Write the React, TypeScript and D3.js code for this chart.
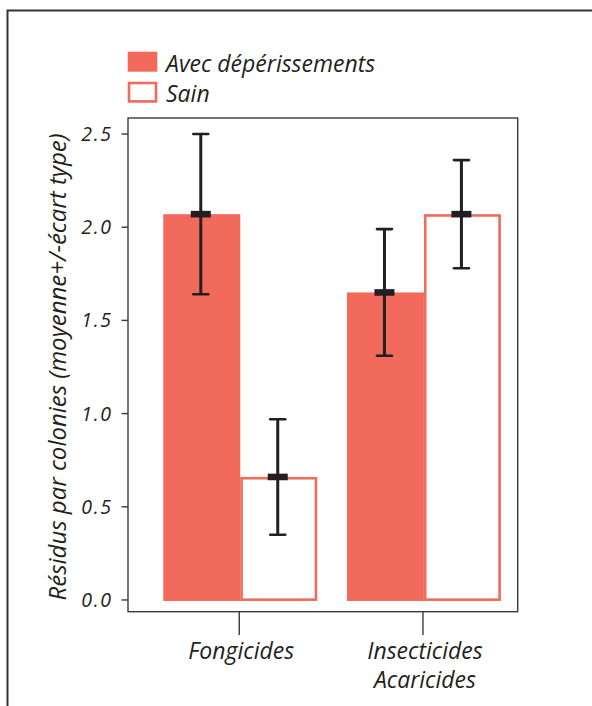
import React from "react";
import * as d3 from "d3";

// Residue levels per colony, by product family and colony status
const categories = ["Fongicides", "Insecticides\nAcaricides"];
const seriesNames = ["Avec dépérissements", "Sain"];
const meanAvec = [2.07, 1.65];
const meanSain = [0.66, 2.07];
const sdAvec = [0.43, 0.34];
const sdSain = [0.31, 0.29];
const yTicks = [0, 0.5, 1.0, 1.5, 2.0, 2.5];

const W = 592;
const H = 706;
const RED = "#f26a5b";
const INK = "#231f20";
const FONT = "'Open Sans', 'Liberation Sans', sans-serif";

const panel = { left: 128, right: 517.7, top: 118, bottom: 611.7 };

export default function App() {
  const y = d3
    .scaleLinear()
    .domain([-0.063, 2.586])
    .range([panel.bottom, panel.top]);

  const x = d3
    .scaleBand<string>()
    .domain(categories)
    .range([163.3, 500.9])
    .paddingInner(0.162)
    .paddingOuter(0);

  const xs = d3
    .scaleBand<string>()
    .domain(seriesNames)
    .range([0, x.bandwidth()]);

  const rows = categories.flatMap((c, i) => [
    { cat: c, series: seriesNames[0], mean: meanAvec[i], sd: sdAvec[i] },
    { cat: c, series: seriesNames[1], mean: meanSain[i], sd: sdSain[i] },
  ]);

  const sw = 2.6;

  return (
    <svg
      width={W}
      height={H}
      style={{ position: "absolute", left: 0, top: 0, background: "#fff" }}
      fontFamily={FONT}
      fontStyle="italic"
    >
      <rect x={0} y={0} width={W} height={H} fill="#fff" />
      {/* outer frame */}
      <rect
        x={7.5}
        y={10.5}
        width={W + 20}
        height={H + 20}
        fill="none"
        stroke="#333"
        strokeWidth={2}
      />

      {/* bars */}
      {rows.map((r, i) => {
        const x0 = (x(r.cat) as number) + (xs(r.series) as number);
        const w = xs.bandwidth();
        const top = y(r.mean);
        const bot = y(0) + 1;
        if (r.series === seriesNames[0]) {
          return (
            <rect key={i} x={x0} y={top} width={w} height={bot - top} fill={RED} />
          );
        }
        return (
          <rect
            key={i}
            x={x0 + sw / 2}
            y={top + sw / 2}
            width={w - sw}
            height={bot - top - sw}
            fill="#fff"
            stroke={RED}
            strokeWidth={sw}
          />
        );
      })}

      {/* error bars */}
      {rows.map((r, i) => {
        const cx = (x(r.cat) as number) + (xs(r.series) as number) + xs.bandwidth() / 2 - 1;
        const hi = y(r.mean + r.sd);
        const lo = y(r.mean - r.sd);
        return (
          <g key={i} stroke={INK}>
            <line x1={cx} x2={cx} y1={hi} y2={lo} strokeWidth={3} />
            <line x1={cx - 7.5} x2={cx + 7.5} y1={hi} y2={hi} strokeWidth={2.6} strokeLinecap="round" />
            <line x1={cx - 7.5} x2={cx + 7.5} y1={lo} y2={lo} strokeWidth={2.6} strokeLinecap="round" />
            <rect x={cx - 10} y={y(r.mean) - 3.3} width={20} height={6.6} fill={INK} stroke="none" />
          </g>
        );
      })}

      {/* panel border */}
      <rect
        x={panel.left}
        y={panel.top}
        width={panel.right - panel.left}
        height={panel.bottom - panel.top}
        fill="none"
        stroke="#3a3a3a"
        strokeWidth={1.4}
      />

      {/* y axis */}
      {yTicks.map((t) => (
        <g key={t}>
          <line x1={panel.left - 6.5} x2={panel.left} y1={y(t)} y2={y(t)} stroke="#3a3a3a" strokeWidth={1.4} />
          <text
            x={112.5}
            y={y(t)}
            dy="0.36em"
            textAnchor="end"
            fontSize={19.5}
            letterSpacing={1.6}
            fill={INK}
          >
            {t.toFixed(1)}
          </text>
        </g>
      ))}
      <text
        transform={`translate(66, ${(y(0) + y(2.5)) / 2}) rotate(-90)`}
        textAnchor="middle"
        fontSize={24}
        fill={INK}
      >
        Résidus par colonies (moyenne+/-écart type)
      </text>

      {/* x axis */}
      {categories.map((c) => {
        const cx = (x(c) as number) + x.bandwidth() / 2 - 1;
        const lines = c.split("\n");
        return (
          <g key={c}>
            <line x1={cx} x2={cx} y1={panel.bottom} y2={635} stroke="#3a3a3a" strokeWidth={1.4} />
            <text textAnchor="middle" fontSize={23} fill={INK}>
              {lines.map((l, k) => (
                <tspan key={k} x={cx + 2} y={659 + k * 29}>
                  {l}
                </tspan>
              ))}
            </text>
          </g>
        );
      })}

      {/* legend */}
      <rect x={127.7} y={51.7} width={29.6} height={20} fill={RED} />
      <rect
        x={127.7 + sw / 2}
        y={81.7 + sw / 2}
        width={29.6 - sw}
        height={21 - sw}
        fill="#fff"
        stroke={RED}
        strokeWidth={sw}
      />
      <text x={166} y={71.5} fontSize={23} fill={INK}>
        {seriesNames[0]}
      </text>
      <text x={166} y={101.5} fontSize={23} fill={INK}>
        {seriesNames[1]}
      </text>
    </svg>
  );
}
